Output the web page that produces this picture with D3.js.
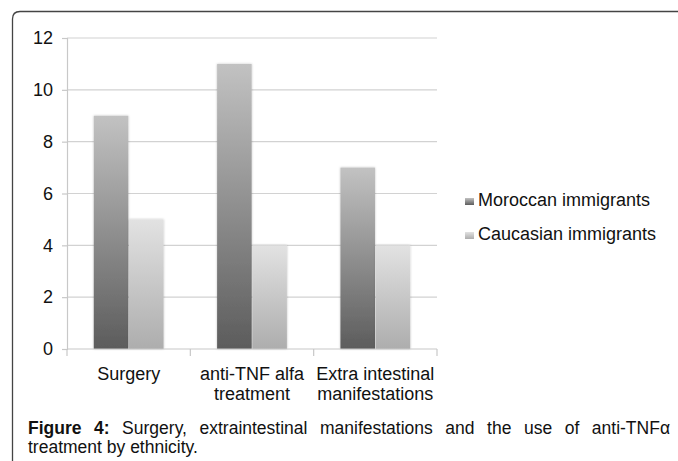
<!DOCTYPE html>
<html>
<head>
<meta charset="utf-8">
<script src="https://cdn.jsdelivr.net/npm/d3@7"></script>
<style>
  body { margin: 0; background: #fff; }
  svg text { font-family: "Liberation Sans", Arial, sans-serif; }
</style>
</head>
<body>
<div id="chart"></div>
<script>
// chart data
var categories = [["Surgery"], ["anti-TNF alfa", "treatment"], ["Extra intestinal", "manifestations"]];
var seriesNames = ["Moroccan immigrants", "Caucasian immigrants"];
var moroccan = [9, 11, 7];
var caucasian = [5, 4, 4];
var yTicks = [0, 2, 4, 6, 8, 10, 12];

var W = 678, H = 461;
var margin = {top: 38, left: 67};
var plotW = 370, plotH = 311;

var svg = d3.select("#chart").append("svg")
    .attr("width", W)
    .attr("height", H);

var defs = svg.append("defs");
var grads = [["#c2c2c2", "#5c5c5c"], ["#e2e2e2", "#adadad"]];
grads.forEach(function(c, i) {
    var g = defs.append("linearGradient")
        .attr("id", "grad" + i)
        .attr("x1", 0).attr("y1", 0).attr("x2", 0).attr("y2", 1);
    g.append("stop").attr("offset", "0%").attr("stop-color", c[0]);
    g.append("stop").attr("offset", "100%").attr("stop-color", c[1]);
});
var f = defs.append("filter").attr("id", "shadow")
    .attr("x", "-20%").attr("y", "-5%").attr("width", "140%").attr("height", "110%");
f.append("feDropShadow").attr("dx", 0).attr("dy", 0).attr("stdDeviation", 1.2)
    .attr("flood-color", "#000").attr("flood-opacity", 0.25);

// frame: top and left border with rounded corner
svg.append("path")
    .attr("d", "M12.5,461 L12.5,19 Q12.5,11.5 20,11.5 L678,11.5")
    .attr("fill", "none")
    .attr("stroke", "#444")
    .attr("stroke-width", 1.3);

var g = svg.append("g")
    .attr("transform", "translate(" + margin.left + "," + margin.top + ")");

var x0 = d3.scaleBand()
    .domain(d3.range(categories.length))
    .range([0, plotW]);

var x1 = d3.scaleBand()
    .domain([0, 1])
    .range([0, x0.bandwidth()])
    .paddingOuter(0.76)
    .paddingInner(0.02);

var y = d3.scaleLinear()
    .domain([0, 12])
    .range([plotH, 0]);

// gridlines
g.selectAll(".grid")
    .data(yTicks.slice(1))
    .enter().append("line")
    .attr("x1", 0).attr("x2", plotW)
    .attr("y1", function(d) { return y(d); })
    .attr("y2", function(d) { return y(d); })
    .attr("stroke", "#d2d2d2")
    .attr("stroke-width", 1.2);

// y axis
var yAxis = g.append("g")
    .call(d3.axisLeft(y).tickValues(yTicks).tickSize(5).tickPadding(9));
yAxis.select(".domain").attr("stroke", "#c8c8c8").attr("stroke-width", 1.2);
yAxis.selectAll(".tick line").attr("stroke", "#c8c8c8").attr("stroke-width", 1.2);
yAxis.selectAll(".tick text").attr("font-size", 18).attr("fill", "#111")
    .attr("font-family", "Liberation Sans, Arial, sans-serif");

// bars
var data = [moroccan, caucasian];
data.forEach(function(vals, s) {
    g.selectAll(".bar" + s)
        .data(vals)
        .enter().append("rect")
        .attr("x", function(d, i) { return x0(i) + x1(s); })
        .attr("y", function(d) { return y(d); })
        .attr("width", x1.bandwidth())
        .attr("height", function(d) { return plotH - y(d); })
        .attr("fill", "url(#grad" + s + ")")
        .attr("filter", "url(#shadow)");
});

// x axis
var xAxisG = g.append("g").attr("transform", "translate(0," + plotH + ")");
xAxisG.append("line")
    .attr("x1", 0).attr("x2", plotW)
    .attr("stroke", "#c8c8c8").attr("stroke-width", 1.2);
xAxisG.selectAll(".xtick")
    .data(d3.range(categories.length + 1))
    .enter().append("line")
    .attr("x1", function(d) { return d * x0.step(); })
    .attr("x2", function(d) { return d * x0.step(); })
    .attr("y1", 0).attr("y2", 7)
    .attr("stroke", "#c8c8c8").attr("stroke-width", 1.2);

categories.forEach(function(lines, i) {
    var t = xAxisG.append("text")
        .attr("x", x0(i) + x0.bandwidth() / 2)
        .attr("y", 31)
        .attr("text-anchor", "middle")
        .attr("font-size", 18)
        .attr("fill", "#111");
    lines.forEach(function(l, k) {
        t.append("tspan")
            .attr("x", x0(i) + x0.bandwidth() / 2)
            .attr("dy", k === 0 ? 0 : 20)
            .text(l);
    });
});

// legend
var legend = svg.append("g").attr("transform", "translate(465,206)");
seriesNames.forEach(function(n, i) {
    var row = legend.append("g").attr("transform", "translate(0," + (i * 34) + ")");
    row.append("rect")
        .attr("x", 0).attr("y", -8)
        .attr("width", 9).attr("height", 7)
        .attr("fill", "url(#grad" + i + ")");
    row.append("text")
        .attr("x", 13).attr("y", 0)
        .attr("font-size", 18)
        .attr("fill", "#111")
        .text(n);
});

// caption
var cap = svg.append("text")
    .attr("font-size", 17.5)
    .attr("fill", "#111");
var line1 = cap.append("tspan").attr("x", 28).attr("y", 434);
line1.append("tspan").attr("font-weight", "bold").text("Figure 4:");
line1.append("tspan").text(" Surgery, extraintestinal manifestations and the use of anti-TNF\u03b1");
cap.append("tspan").attr("x", 28).attr("y", 453).text("treatment by ethnicity.");

// justify first line to the right edge
var target = 670 - 28;
var w = line1.node().getComputedTextLength();
if (w < target) {
    line1.attr("word-spacing", (target - w) / 9);
    var w2 = line1.node().getComputedTextLength();
    if (w2 > 0 && Math.abs(w2 - target) > 1) {
        line1.attr("word-spacing", (target - w) / 9 * (target - w) / Math.max(1, w2 - w));
    }
}
</script>
</body>
</html>
